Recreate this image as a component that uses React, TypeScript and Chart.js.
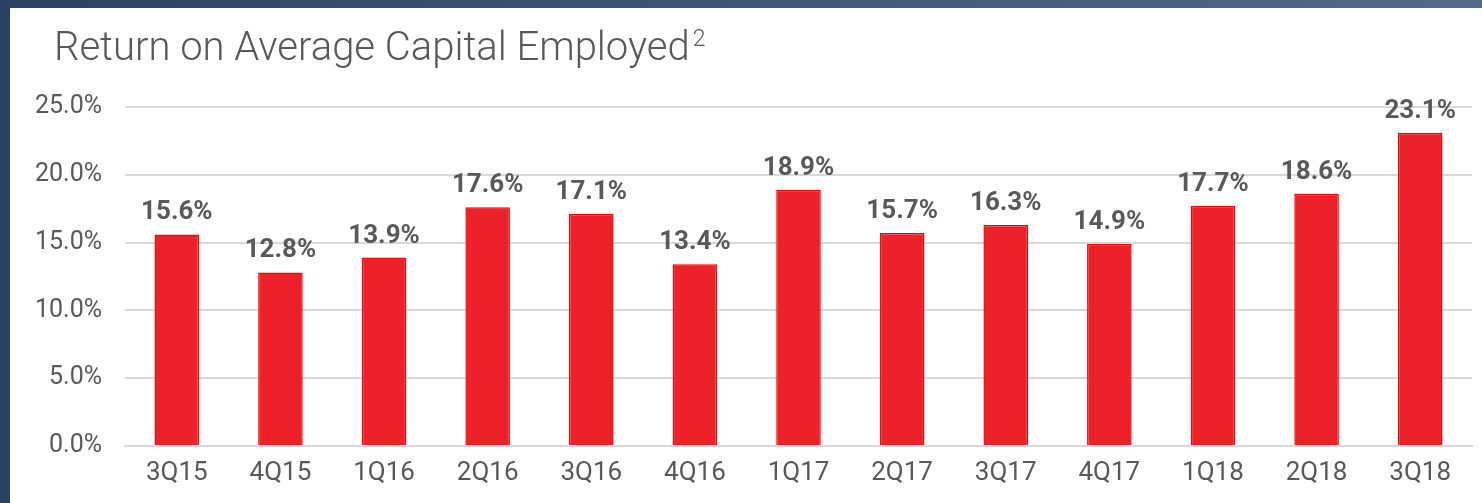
import React, { useEffect, useRef } from "react";
import { Chart, registerables } from "chart.js";

Chart.register(...registerables);

const categories = ["3Q15", "4Q15", "1Q16", "2Q16", "3Q16", "4Q16", "1Q17", "2Q17", "3Q17", "4Q17", "1Q18", "2Q18", "3Q18"];
const roaceValues = [15.6, 12.8, 13.9, 17.6, 17.1, 13.4, 18.9, 15.7, 16.3, 14.9, 17.7, 18.6, 23.1];
const yTicks = [0, 5, 10, 15, 20, 25];
const titleText = "Return on Average Capital Employed";
const titleSup = "2";

const FONT = "Roboto, 'Noto Sans', sans-serif";
const TEXT = "#595959";

const labelPlugin = {
  id: "barLabels",
  afterDatasetsDraw(chart: any) {
    const ctx = chart.ctx;
    const meta = chart.getDatasetMeta(0);
    ctx.save();
    ctx.font = `bold 26px ${FONT}`;
    ctx.fillStyle = TEXT;
    ctx.textAlign = "center";
    ctx.textBaseline = "alphabetic";
    meta.data.forEach((bar: any, i: number) => {
      ctx.fillText(roaceValues[i].toFixed(1) + "%", bar.x, bar.y - 15);
    });
    ctx.restore();
  },
};

const titlePlugin = {
  id: "customTitle",
  afterDraw(chart: any) {
    const ctx = chart.ctx;
    ctx.save();
    ctx.fillStyle = TEXT;
    ctx.textBaseline = "alphabetic";
    ctx.textAlign = "left";
    ctx.font = `300 40px ${FONT}`;
    ctx.fillText(titleText, 44, 52);
    const w = ctx.measureText(titleText).width;
    ctx.font = `300 23px ${FONT}`;
    ctx.fillText(titleSup, 44 + w + 3, 38);
    ctx.restore();
  },
};

export default function App() {
  const ref = useRef<HTMLCanvasElement>(null);
  useEffect(() => {
    if (!ref.current) return;
    const chart = new Chart(ref.current, {
      type: "bar",
      data: {
        labels: categories,
        datasets: [
          {
            data: roaceValues,
            backgroundColor: "#EC2129",
            borderColor: "#FF0000",
            borderWidth: 1.5,
            categoryPercentage: 1,
            barPercentage: 0.43,
          },
        ],
      },
      options: {
        animation: false,
        responsive: false,
        maintainAspectRatio: false,
        layout: { padding: { top: 99, right: 10, left: 0, bottom: 0 } },
        plugins: { legend: { display: false }, tooltip: { enabled: false }, title: { display: false } },
        scales: {
          x: {
            grid: { display: false, drawTicks: false },
            border: { display: true, color: "#d9d9d9", width: 2 },
            ticks: { color: TEXT, font: { family: FONT, size: 26 }, padding: 12, maxRotation: 0 },
            afterFit(scale: any) {
              scale.height = 57;
            },
          },
          y: {
            min: 0,
            max: 25,
            afterBuildTicks(scale: any) {
              scale.ticks = yTicks.map((v) => ({ value: v }));
            },
            grid: { color: "#d9d9d9", lineWidth: 2, drawTicks: false },
            border: { display: false },
            ticks: {
              color: TEXT,
              font: { family: FONT, size: 25 },
              padding: 23,
              callback: (v: any) => Number(v).toFixed(1) + "%",
            },
            afterFit(scale: any) {
              scale.width = 115;
            },
          },
        },
      },
      plugins: [labelPlugin, titlePlugin],
    } as any);
    return () => chart.destroy();
  }, []);

  return (
    <div
      style={{
        position: "absolute",
        left: 0,
        top: 0,
        width: 1482,
        height: 503,
        background: "linear-gradient(90deg, #2a4264 0%, #3e5779 50%, #52698a 100%)",
        overflow: "hidden",
      }}
    >
      <div style={{ position: "absolute", left: 10, top: 8, width: 1472, height: 495, background: "#ffffff" }}>
        <canvas ref={ref} width={1472} height={495} style={{ display: "block" }} />
      </div>
    </div>
  );
}
